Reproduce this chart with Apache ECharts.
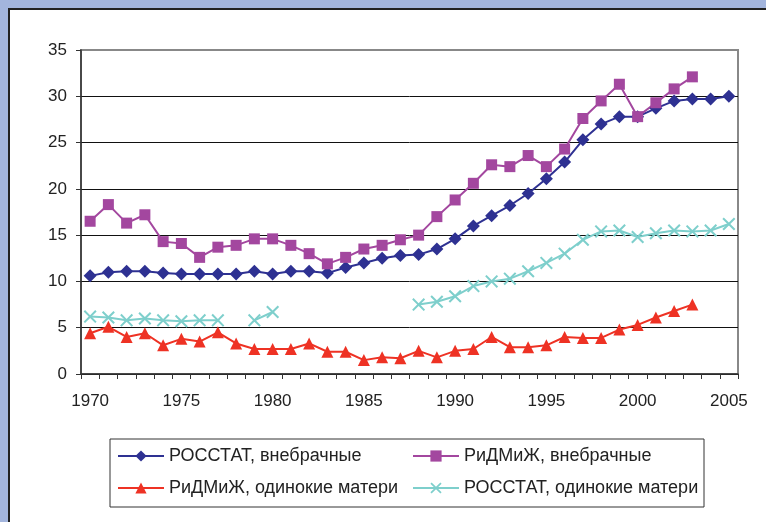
<!DOCTYPE html>
<html>
<head>
<meta charset="utf-8">
<script src="https://cdn.jsdelivr.net/npm/echarts@6/dist/echarts.min.js"></script>
<style>
html,body{margin:0;padding:0;width:766px;height:522px;overflow:hidden;background:#a3b5dd;}
#panel{position:absolute;left:8px;top:8px;width:800px;height:600px;background:#fff;border-left:2px solid #222;border-top:2px solid #222;}
#chart{position:absolute;left:0;top:0;width:766px;height:522px;}
</style>
</head>
<body>
<div id="panel"></div>
<div id="chart"></div>
<script>
var years = ['1970','1971','1972','1973','1974','1975','1976','1977','1978','1979',
             '1980','1981','1982','1983','1984','1985','1986','1987','1988','1989',
             '1990','1991','1992','1993','1994','1995','1996','1997','1998','1999',
             '2000','2001','2002','2003','2004','2005'];

var rosstatOutOfWedlock = [10.6,11.0,11.1,11.1,10.9,10.8,10.8,10.8,10.8,11.1,
                           10.8,11.1,11.1,10.9,11.5,12.0,12.5,12.8,12.9,13.5,
                           14.6,16.0,17.1,18.2,19.5,21.1,22.9,25.3,27.0,27.8,
                           27.8,28.7,29.5,29.7,29.7,30.0];

var ridmizhOutOfWedlock = [16.5,18.3,16.3,17.2,14.3,14.1,12.6,13.7,13.9,14.6,
                           14.6,13.9,13.0,11.9,12.6,13.5,13.9,14.5,15.0,17.0,
                           18.8,20.6,22.6,22.4,23.6,22.4,24.3,27.6,29.5,31.3,
                           27.8,29.3,30.8,32.1,null,null];

var ridmizhSingleMothers = [4.4,5.1,4.0,4.4,3.1,3.8,3.5,4.5,3.3,2.7,
                            2.7,2.7,3.3,2.4,2.4,1.5,1.8,1.7,2.5,1.8,
                            2.5,2.7,4.0,2.9,2.9,3.1,4.0,3.9,3.9,4.8,
                            5.3,6.1,6.8,7.5,null,null];

var rosstatSingleMothers = [6.2,6.1,5.8,6.0,5.8,5.7,5.8,5.8,null,5.8,
                            6.7,null,null,null,null,null,null,null,7.5,7.8,
                            8.4,9.5,10.0,10.3,11.1,12.0,13.0,14.5,15.4,15.5,
                            14.8,15.2,15.5,15.4,15.5,16.2];

var yTicks = {min: 0, max: 35, step: 5};

var names = ['РОССТАТ, внебрачные','РиДМиЖ, внебрачные','РиДМиЖ, одинокие матери','РОССТАТ, одинокие матери'];
var FONT = '"Liberation Sans", Arial, sans-serif';
var crossPath = 'path://M0,1.1L1.1,0L5,3.9L8.9,0L10,1.1L6.1,5L10,8.9L8.9,10L5,6.1L1.1,10L0,8.9L3.9,5Z';

function legendAt(name, left, top) {
  return {
    data: [name], left: left, top: top, padding: 0, itemWidth: 46, itemHeight: 14,
    itemGap: 5, selectedMode: false,
    textStyle: {fontSize: 18, color: '#222', fontFamily: FONT, lineHeight: 20}
  };
}

var chart = echarts.init(document.getElementById('chart'), null, {renderer: 'canvas'});
chart.setOption({
  animation: false,
  backgroundColor: 'transparent',
  textStyle: {fontFamily: FONT},
  grid: {left: 81, right: 28, top: 50, bottom: 148, show: true, borderColor: '#888', borderWidth: 2, backgroundColor: 'transparent'},
  xAxis: {
    type: 'category', data: years, boundaryGap: true,
    axisLine: {lineStyle: {color: '#333', width: 1.5}},
    axisTick: {show: true, interval: 0, length: 5, lineStyle: {color: '#333'}},
    axisLabel: {interval: 4, fontSize: 17, color: '#222', margin: 19, fontFamily: FONT},
    splitLine: {show: false}
  },
  yAxis: {
    type: 'value', min: yTicks.min, max: yTicks.max, interval: yTicks.step,
    axisLine: {show: true, lineStyle: {color: '#333', width: 1.5}},
    axisTick: {show: true, length: 5, lineStyle: {color: '#333'}},
    axisLabel: {fontSize: 17, color: '#222', margin: 14, fontFamily: FONT},
    splitLine: {show: true, lineStyle: {color: ['#111','#111','#111','#111','#111','#111','#111','#888'], width: 1}}
  },
  legend: [
    legendAt(names[0], 117, 446),
    legendAt(names[1], 412, 446),
    legendAt(names[2], 117, 478),
    legendAt(names[3], 412, 478)
  ],
  graphic: [{
    type: 'rect', shape: {x: 110, y: 439, width: 594, height: 68},
    style: {fill: 'transparent', stroke: '#333', lineWidth: 1}, z: -1
  }],
  series: [
    {name: names[0], type: 'line', data: rosstatOutOfWedlock, symbol: 'diamond', symbolSize: 13, showAllSymbol: true,
     lineStyle: {color: '#2e3192', width: 2}, itemStyle: {color: '#2e3192'}, connectNulls: false},
    {name: names[1], type: 'line', data: ridmizhOutOfWedlock, symbol: 'rect', symbolSize: 11, showAllSymbol: true,
     lineStyle: {color: '#a3479f', width: 2}, itemStyle: {color: '#a3479f'}, connectNulls: false},
    {name: names[2], type: 'line', data: ridmizhSingleMothers, symbol: 'triangle', symbolSize: 12, showAllSymbol: true,
     lineStyle: {color: '#ee3224', width: 2}, itemStyle: {color: '#ee3224'}, connectNulls: false},
    {name: names[3], type: 'line', data: rosstatSingleMothers, symbol: crossPath, symbolSize: 13, showAllSymbol: true,
     lineStyle: {color: '#7ecfcc', width: 2}, itemStyle: {color: '#7ecfcc'}, connectNulls: false}
  ]
});
</script>
</body>
</html>
